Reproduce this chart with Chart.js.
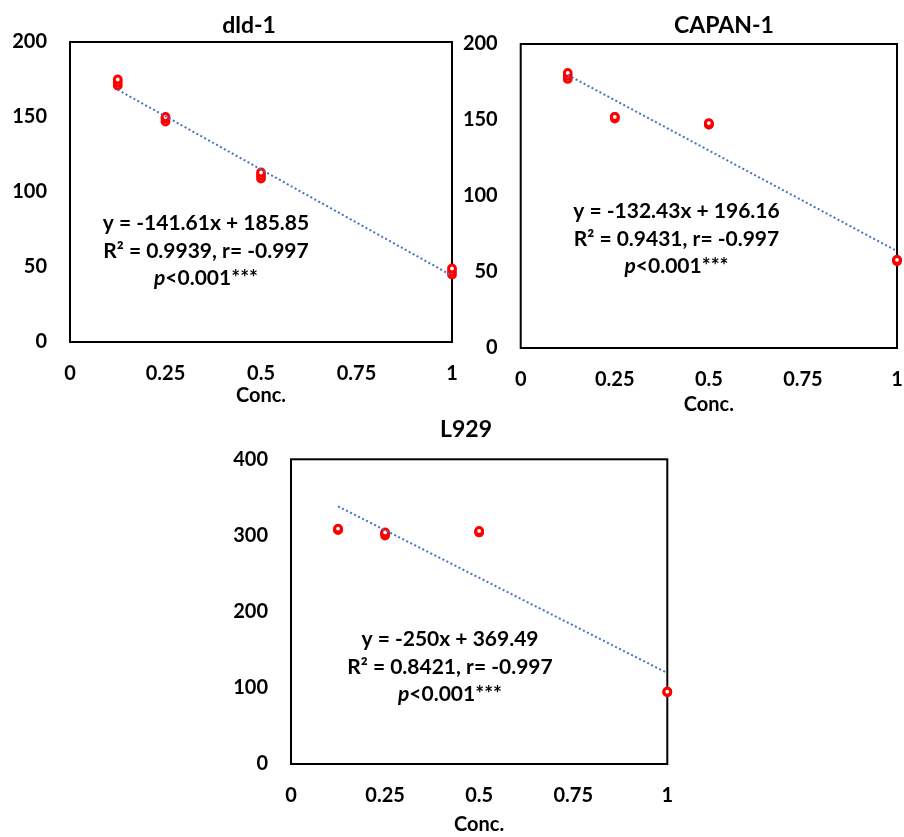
<!DOCTYPE html>
<html>
<head>
<meta charset="utf-8">
<script src="https://cdn.jsdelivr.net/npm/chart.js@4.4.1/dist/chart.umd.min.js"></script>
<style>
  body { margin: 0; background: #fff; }
  #wrap { position: relative; width: 904px; height: 837px; overflow: hidden; }
  .box { position: absolute; }
</style>
</head>
<body>
<div id="wrap">
  <div class="box" style="left:0px;top:0px;width:460px;height:410px"><canvas id="c1"></canvas></div>
  <div class="box" style="left:455px;top:0px;width:449px;height:420px"><canvas id="c2"></canvas></div>
  <div class="box" style="left:220px;top:415px;width:460px;height:422px"><canvas id="c3"></canvas></div>
</div>
<script>
'use strict'

//data
const conc = [0.125, 0.125, 0.125, 0.25, 0.25, 0.25, 0.5, 0.5, 0.5, 1, 1, 1];
const xTicks = [0, 0.25, 0.5, 0.75, 1];

const dldValues = [171, 173, 175, 147, 149, 150, 109, 111, 113, 45, 47, 49];
const capanValues = [177, 179, 181, 151, 152, 152, 147, 147, 148, 57, 58, 58];
const l929Values = [307, 308, 309, 300, 302, 304, 304, 305, 306, 94, 95, 95];

const dldYTicks = [0, 50, 100, 150, 200];
const capanYTicks = [0, 50, 100, 150, 200];
const l929YTicks = [0, 100, 200, 300, 400];

// trendline coefficients as printed on the chart
const dldFit = [-141.61, 185.85];
const capanFit = [-132.43, 196.16];
const l929Fit = [-250, 369.49];

const dldNote = ['y = -141.61x + 185.85', 'R\u00b2 = 0.9939, r= -0.997', 'p<0.001***'];
const capanNote = ['y = -132.43x + 196.16', 'R\u00b2 = 0.9431, r= -0.997', 'p<0.001***'];
const l929Note = ['y = -250x + 369.49', 'R\u00b2 = 0.8421, r= -0.997', 'p<0.001***'];

const FONT = 'Lato, "Open Sans", sans-serif';

//plugin: frame, title and regression text
const frameAndText = {
  id: 'frameAndText',
  beforeDatasetsDraw(chart) {
    const a = chart.chartArea;
    const ctx = chart.ctx;
    ctx.save();
    ctx.strokeStyle = '#000';
    ctx.lineWidth = 2;
    ctx.strokeRect(a.left, a.top, a.right - a.left, a.bottom - a.top);
    ctx.restore();
  },
  afterDatasetsDraw(chart, args, opts) {
    const ctx = chart.ctx;
    ctx.save();
    ctx.fillStyle = '#000';
    ctx.textBaseline = 'middle';
    ctx.textAlign = 'center';
    ctx.font = 'bold 23px ' + FONT;
    ctx.fillText(opts.title, opts.titleX, opts.titleY);

    const cx = chart.scales.x.getPixelForValue(opts.noteX);
    let cy = chart.scales.y.getPixelForValue(opts.noteY);
    ctx.font = 'bold 21px ' + FONT;
    ctx.fillText(opts.note[0], cx, cy);
    cy += 28;
    ctx.fillText(opts.note[1], cx, cy);
    cy += 27;
    // italic p, then the rest
    const rest = opts.note[2].slice(1);
    ctx.font = 'italic bold 21px ' + FONT;
    const wp = ctx.measureText('p').width;
    ctx.font = 'bold 21px ' + FONT;
    const wr = ctx.measureText(rest).width;
    let x0 = cx - (wp + wr) / 2;
    ctx.textAlign = 'left';
    ctx.font = 'italic bold 21px ' + FONT;
    ctx.fillText('p', x0, cy);
    ctx.font = 'bold 21px ' + FONT;
    ctx.fillText(rest, x0 + wp, cy);
    ctx.restore();
  }
};

function makeChart(id, values, yTicks, fit, note, frame) {
  const points = values.map((v, i) => ({ x: conc[i], y: v }));
  const xMin = Math.min(...conc);
  const xMax = Math.max(...conc);
  const trend = [
    { x: xMin, y: fit[0] * xMin + fit[1] },
    { x: xMax, y: fit[0] * xMax + fit[1] }
  ];
  const tickFont = { family: FONT, size: 20, weight: 'bold' };

  const config = {
    type: 'scatter',
    data: {
      datasets: [{
        data: trend,
        showLine: true,
        borderColor: '#4472C4',
        borderWidth: 2,
        borderDash: [2, 2.5],
        pointRadius: 0,
        clip: false,
        order: 0
      },
      {
        data: points,
        pointStyle: 'circle',
        pointRadius: 3.4,
        borderWidth: 3,
        borderColor: '#FF0000',
        backgroundColor: '#FFFFFF',
        clip: false,
        order: 1
      }]
    },
    options: {
      responsive: true,
      maintainAspectRatio: false,
      animation: false,
      layout: { padding: { top: frame.padTop, right: frame.padRight, left: 0, bottom: 0 } },
      plugins: {
        legend: { display: false },
        tooltip: { enabled: false },
        frameAndText: {
          title: frame.title,
          titleX: frame.titleX,
          titleY: frame.titleY,
          note: note,
          noteX: frame.noteX,
          noteY: frame.noteY
        }
      },
      scales: {
        x: {
          type: 'linear',
          min: xTicks[0],
          max: xTicks[xTicks.length - 1],
          afterBuildTicks: (s) => { s.ticks = xTicks.map(v => ({ value: v })); },
          afterFit: (s) => {
            s.height = frame.xHeight;
            s.paddingLeft = 0;
            s.paddingRight = 0;
          },
          grid: { display: false, drawTicks: false },
          border: { display: false },
          ticks: { color: '#000', font: tickFont, padding: 20, maxRotation: 0, callback: (v) => String(v) },
          title: {
            display: true,
            text: 'Conc.',
            color: '#000',
            font: { family: FONT, size: 20, weight: 'bold' },
            padding: { top: 0, bottom: frame.concPad }
          }
        },
        y: {
          min: yTicks[0],
          max: yTicks[yTicks.length - 1],
          afterBuildTicks: (s) => { s.ticks = yTicks.map(v => ({ value: v })); },
          afterFit: (s) => {
            s.width = frame.yWidth;
            s.paddingTop = 0;
            s.paddingBottom = 0;
          },
          grid: { display: false, drawTicks: false },
          border: { display: false },
          ticks: { color: '#000', font: tickFont, padding: 23 }
        }
      }
    },
    plugins: [frameAndText]
  };
  return new Chart(document.getElementById(id), config);
}

makeChart('c1', dldValues, dldYTicks, dldFit, dldNote, {
  title: 'dld-1', titleX: 249, titleY: 26,
  padTop: 42, padRight: 8, yWidth: 70, xHeight: 68, concPad: 2,
  noteX: 0.356, noteY: 79.3
});

makeChart('c2', capanValues, capanYTicks, capanFit, capanNote, {
  title: 'CAPAN-1', titleX: 269, titleY: 26,
  padTop: 44, padRight: 2, yWidth: 65.7, xHeight: 72, concPad: 3,
  noteX: 0.414, noteY: 89.7
});

makeChart('c3', l929Values, l929YTicks, l929Fit, l929Note, {
  title: 'L929', titleX: 246, titleY: 15,
  padTop: 44.3, padRight: 12.7, yWidth: 71, xHeight: 73, concPad: 0,
  noteX: 0.4225, noteY: 164
});
</script>
</body>
</html>
